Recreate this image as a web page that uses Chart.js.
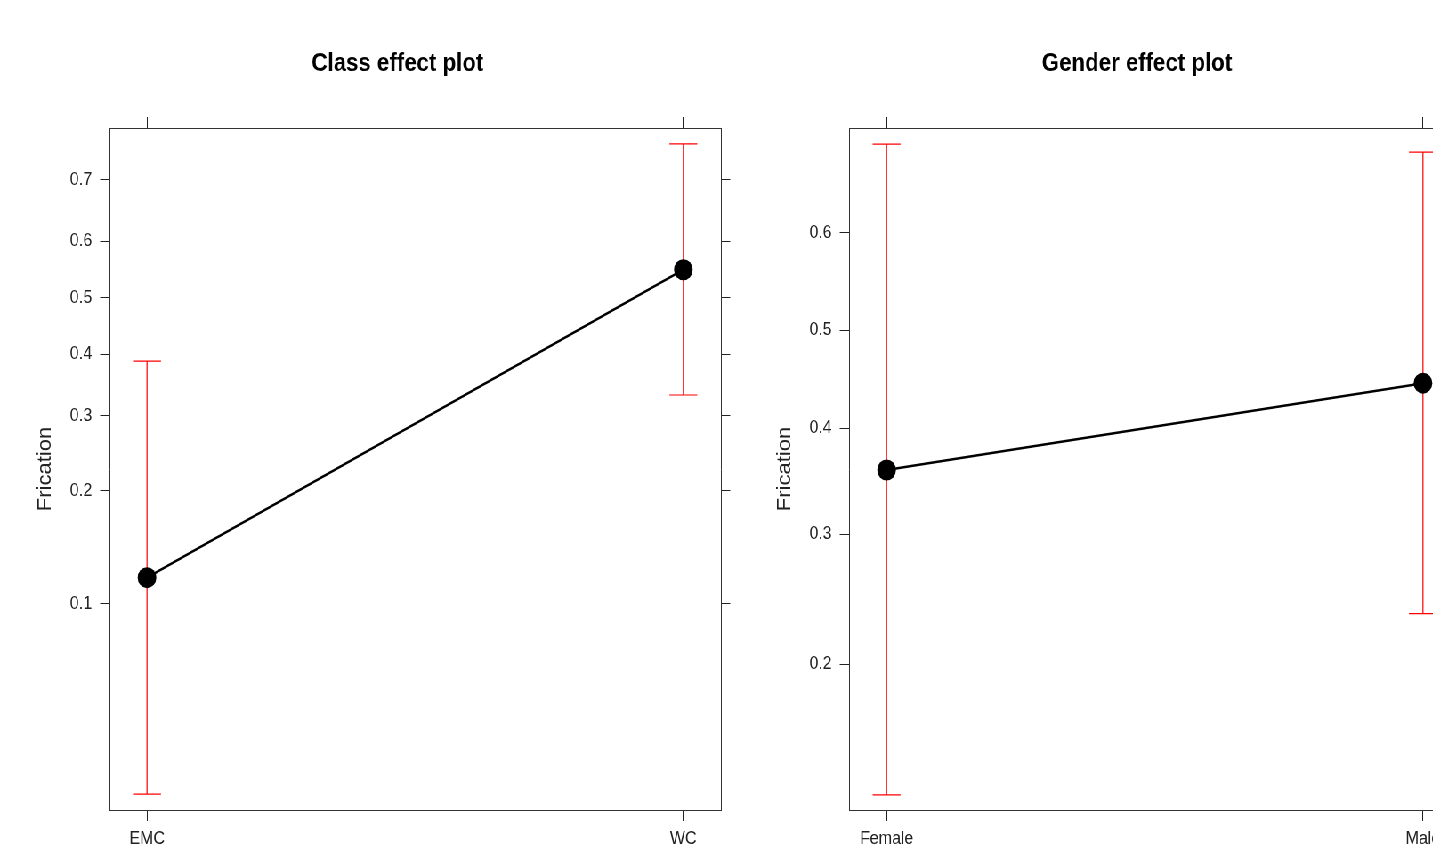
<!DOCTYPE html>
<html>
<head>
<meta charset="utf-8">
<script src="https://cdn.jsdelivr.net/npm/chart.js@4.4.1/dist/chart.umd.min.js"></script>
<style>
  html, body { margin: 0; padding: 0; background: #fff; overflow: hidden; width: 1433px; height: 846px; }
  #stage { position: absolute; left: 0; top: 0; width: 1800px; height: 846px; transform: scaleX(0.89); transform-origin: 0 0; }
  .panel { position: absolute; top: 0; width: 893px; height: 846px; }
</style>
</head>
<body>
<div id="stage">
  <div class="panel" style="left:0"><canvas id="classChart" width="893" height="846"></canvas></div>
  <div class="panel" style="left:831px"><canvas id="genderChart" width="893" height="846"></canvas></div>
</div>
<script>
// Class effect: fitted probability of frication with 95% limits
const classLevels = ['EMC', 'WC'];
const classFit = [0.118, 0.550];
const classLower = [0.0275, 0.332];
const classUpper = [0.388, 0.751];
const classTicks = [0.1, 0.2, 0.3, 0.4, 0.5, 0.6, 0.7];
const classRange = [0.0246, 0.7718];

// Gender effect
const genderLevels = ['Female', 'Male'];
const genderFit = [0.359, 0.4455];
const genderLower = [0.1268, 0.2357];
const genderUpper = [0.6846, 0.6772];
const genderTicks = [0.2, 0.3, 0.4, 0.5, 0.6];
const genderRange = [0.1200, 0.6988];

const logit = p => Math.log(p / (1 - p));
const FONT = 'Liberation Sans, Arial, Helvetica, sans-serif';
const INK = '#222';

// red confidence bars with end caps, drawn under the line and points
const errorBars = {
  id: 'errorBars',
  beforeDatasetsDraw(chart, args, opts) {
    const { ctx } = chart;
    const x = chart.scales.x, y = chart.scales.y;
    const cap = 15.7;
    ctx.save();
    ctx.strokeStyle = '#ff0000';
    ctx.lineWidth = 1.2;
    opts.lower.forEach((lo, i) => {
      const px = x.getPixelForValue(i + 1);
      const y0 = y.getPixelForValue(logit(lo));
      const y1 = y.getPixelForValue(logit(opts.upper[i]));
      ctx.beginPath();
      ctx.moveTo(px, y0); ctx.lineTo(px, y1);
      ctx.moveTo(px - cap, y0); ctx.lineTo(px + cap, y0);
      ctx.moveTo(px - cap, y1); ctx.lineTo(px + cap, y1);
      ctx.stroke();
    });
    ctx.restore();
  }
};

function effectChart(id, title, levels, fit, lower, upper, ticks, range) {
  const yMin = logit(range[0]), yMax = logit(range[1]);
  const xMin = 0.93, xMax = levels.length + 0.07;
  const probTicks = () => ticks.map(p => ({ value: logit(p) }));
  const catTicks = () => levels.map((_, i) => ({ value: i + 1 }));
  const frame = { display: true, color: '#333', width: 1 };
  const marks = len => ({ drawOnChartArea: false, drawTicks: true, tickLength: len, tickColor: INK, tickWidth: 1 });

  return new Chart(document.getElementById(id), {
    type: 'line',
    data: {
      datasets: [{
        data: fit.map((p, i) => ({ x: i + 1, y: logit(p) })),
        borderColor: '#000',
        borderWidth: 2.5,
        pointRadius: 10.5,
        pointBackgroundColor: '#000',
        pointBorderWidth: 0,
        tension: 0,
        clip: false,
        xAxisID: 'x',
        yAxisID: 'y'
      }]
    },
    options: {
      responsive: false,
      animation: false,
      events: [],
      layout: { padding: 0 },
      plugins: {
        legend: { display: false },
        tooltip: { enabled: false },
        title: {
          display: true, text: title, color: '#000',
          font: { family: FONT, size: 25, weight: 'bold' },
          padding: { top: 49, bottom: 0 }
        },
        errorBars: { lower, upper }
      },
      scales: {
        x: {
          type: 'linear', position: 'bottom', min: xMin, max: xMax,
          afterBuildTicks: s => { s.ticks = catTicks(); },
          afterFit: s => { s.height = 36; },
          grid: marks(11), border: frame,
          ticks: { padding: 7.6, color: INK, font: { family: FONT, size: 18 }, maxRotation: 0, autoSkip: false,
                   callback: (v, i) => levels[i] }
        },
        x2: {
          type: 'linear', position: 'top', min: xMin, max: xMax,
          afterBuildTicks: s => { s.ticks = catTicks(); },
          afterFit: s => { s.height = 49; },
          grid: marks(11), border: frame,
          ticks: { display: false }
        },
        y: {
          type: 'linear', position: 'left', min: yMin, max: yMax,
          afterBuildTicks: s => { s.ticks = probTicks(); },
          afterFit: s => { s.width = 123; },
          grid: marks(10.5), border: frame,
          ticks: { padding: 9, color: INK, font: { family: FONT, size: 18 }, autoSkip: false,
                   callback: (v, i) => String(ticks[i]) },
          title: { display: true, text: 'Frication', color: INK, font: { family: FONT, size: 22 },
                   padding: { top: 38, bottom: 0 } }
        },
        y2: {
          type: 'linear', position: 'right', min: yMin, max: yMax,
          afterBuildTicks: s => { s.ticks = probTicks(); },
          afterFit: s => { s.width = 83; },
          grid: marks(10.5), border: frame,
          ticks: { display: false }
        }
      }
    },
    plugins: [errorBars]
  });
}

effectChart('classChart', 'Class effect plot', classLevels, classFit, classLower, classUpper, classTicks, classRange);
effectChart('genderChart', 'Gender effect plot', genderLevels, genderFit, genderLower, genderUpper, genderTicks, genderRange);
</script>
</body>
</html>
